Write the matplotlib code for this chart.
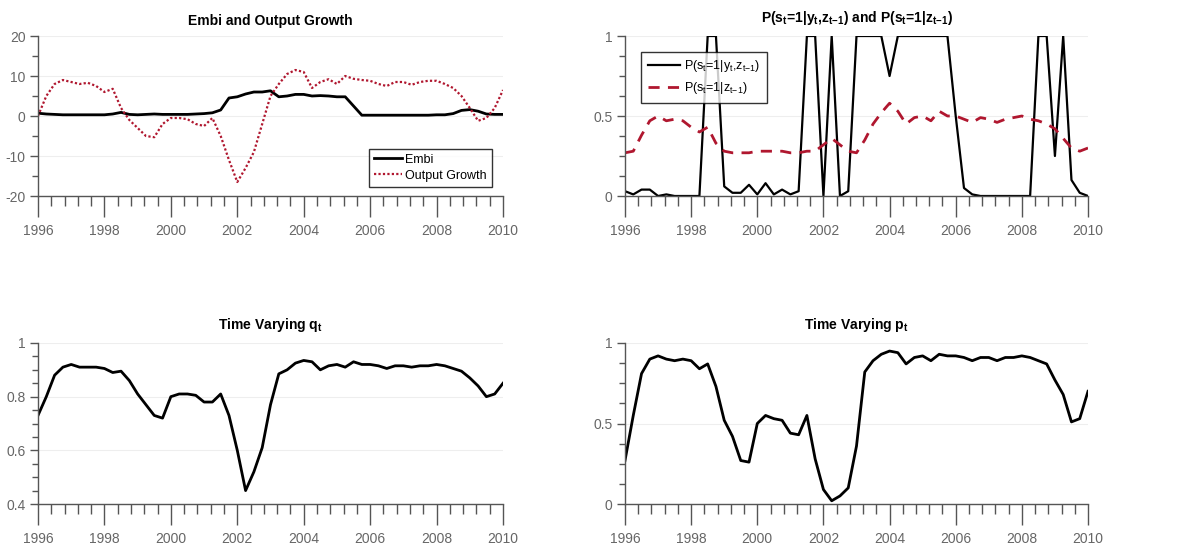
import numpy as np
import matplotlib
matplotlib.use("Agg")
import matplotlib.pyplot as plt
from matplotlib.ticker import MultipleLocator, FixedLocator

plt.rcParams['font.family'] = ['Liberation Sans Narrow', 'Liberation Sans', 'DejaVu Sans']
plt.rcParams['mathtext.fontset'] = 'custom'
plt.rcParams['mathtext.rm'] = 'Liberation Sans'
plt.rcParams['mathtext.it'] = 'Liberation Sans'
plt.rcParams['mathtext.bf'] = 'Liberation Sans:bold'
plt.rcParams['mathtext.default'] = 'regular'

# quarterly dates 1996Q1 .. 2010Q1
dates = 1996 + 0.25 * np.arange(57)

output_growth = [0, 5, 8, 9, 8.5, 8, 8.3, 7.5, 6, 6.8, 2, -1, -3, -5, -5.3, -2,
                 -0.5, -0.5, -0.8, -2, -2.5, -0.5, -5, -11, -16.5, -13, -9, -2,
                 5, 8, 10.5, 11.5, 11, 7, 8.5, 9.2, 8, 10, 9.3, 9, 8.8, 8, 7.5,
                 8.5, 8.5, 7.8, 8.5, 8.8, 8.8, 8, 7, 5, 2, -1.2, -0.5, 2, 6.5]
embi = [0.7, 0.5, 0.4, 0.3, 0.3, 0.3, 0.3, 0.3, 0.3, 0.5, 0.9, 0.4, 0.3, 0.4,
        0.5, 0.4, 0.4, 0.4, 0.4, 0.5, 0.6, 0.8, 1.5, 4.5, 4.8, 5.5, 6.0, 6.0,
        6.3, 4.8, 5.0, 5.4, 5.4, 5.0, 5.1, 5.0, 4.8, 4.8, 2.5, 0.2, 0.2, 0.2,
        0.2, 0.2, 0.2, 0.2, 0.2, 0.2, 0.3, 0.3, 0.6, 1.4, 1.6, 1.2, 0.5, 0.4, 0.4]

p_filt = [0.03, 0.01, 0.04, 0.04, 0.0, 0.01, 0.0, 0.0, 0.0, 0.0, 1.0, 1.0, 0.06,
          0.02, 0.02, 0.07, 0.01, 0.08, 0.01, 0.04, 0.01, 0.03, 1.0, 1.0, 0.0,
          1.0, 0.0, 0.03, 1.0, 1.0, 1.0, 1.0, 0.75, 1.0, 1.0, 1.0, 1.0, 1.0, 1.0,
          1.0, 0.5, 0.05, 0.01, 0.0, 0.0, 0.0, 0.0, 0.0, 0.0, 0.0, 1.0, 1.0, 0.25,
          1.0, 0.1, 0.02, 0.0]
p_pred = [0.27, 0.28, 0.38, 0.47, 0.5, 0.47, 0.48, 0.47, 0.43, 0.40, 0.43, 0.33,
          0.28, 0.27, 0.27, 0.27, 0.28, 0.28, 0.28, 0.28, 0.27, 0.27, 0.28, 0.28,
          0.32, 0.36, 0.32, 0.28, 0.27, 0.35, 0.45, 0.52, 0.58, 0.53, 0.45, 0.49,
          0.50, 0.47, 0.53, 0.50, 0.50, 0.48, 0.46, 0.49, 0.48, 0.46, 0.48, 0.49,
          0.50, 0.48, 0.47, 0.45, 0.42, 0.36, 0.30, 0.28, 0.30]

q_t = [0.73, 0.80, 0.88, 0.91, 0.92, 0.91, 0.91, 0.91, 0.905, 0.89, 0.895, 0.86,
       0.81, 0.77, 0.73, 0.72, 0.80, 0.81, 0.81, 0.805, 0.78, 0.78, 0.81, 0.73,
       0.60, 0.45, 0.52, 0.61, 0.77, 0.885, 0.90, 0.925, 0.935, 0.93, 0.90, 0.915,
       0.92, 0.91, 0.93, 0.92, 0.92, 0.915, 0.905, 0.915, 0.915, 0.91, 0.915,
       0.915, 0.92, 0.915, 0.905, 0.895, 0.87, 0.84, 0.80, 0.81, 0.85]
p_t = [0.27, 0.55, 0.81, 0.90, 0.92, 0.90, 0.89, 0.90, 0.89, 0.84, 0.87, 0.73,
       0.52, 0.42, 0.27, 0.26, 0.50, 0.55, 0.53, 0.52, 0.44, 0.43, 0.55, 0.28,
       0.09, 0.02, 0.05, 0.10, 0.36, 0.82, 0.89, 0.93, 0.95, 0.94, 0.87, 0.91,
       0.92, 0.89, 0.93, 0.92, 0.92, 0.91, 0.89, 0.91, 0.91, 0.89, 0.91, 0.91,
       0.92, 0.91, 0.89, 0.87, 0.77, 0.68, 0.51, 0.53, 0.70]

year_ticks = [1996, 1998, 2000, 2002, 2004, 2006, 2008, 2010]
minor_x = list(np.arange(1996, 2010.001, 0.4))

RED = '#b0172f'
GRAY = '#555555'
W, H = 1183, 548
fig = plt.figure(figsize=(W / 100, H / 100), dpi=100)


def make_ax(l, r, t, b):
    return fig.add_axes([l / W, 1 - b / H, (r - l) / W, (b - t) / H])


def style(ax, ylim, yticks, yminor):
    ax.set_xlim(1996, 2010)
    ax.set_ylim(*ylim)
    for s in ('top', 'right'):
        ax.spines[s].set_visible(False)
    for s in ('left', 'bottom'):
        ax.spines[s].set_color(GRAY)
        ax.spines[s].set_linewidth(1.0)
    ax.set_xticks(year_ticks)
    ax.xaxis.set_minor_locator(FixedLocator(minor_x))
    ax.set_yticks(yticks)
    ax.yaxis.set_minor_locator(MultipleLocator(yminor))
    ax.tick_params(axis='x', which='major', direction='out', length=15, width=1,
                   color=GRAY, labelcolor='#666666', labelsize=10, pad=5)
    ax.tick_params(axis='x', which='minor', direction='out', length=7, width=1, color=GRAY)
    ax.tick_params(axis='y', which='major', direction='out', length=6, width=1,
                   color=GRAY, labelcolor='#666666', labelsize=10, pad=3)
    ax.tick_params(axis='y', which='minor', direction='out', length=4, width=1, color=GRAY)
    ax.grid(axis='y', which='major', color='#eeeeee', linewidth=0.8)
    ax.set_axisbelow(True)


# Top-left
ax1 = make_ax(38, 503, 36, 196)
ax1.plot(dates, embi, color='black', lw=2, label='Embi')
ax1.plot(dates, output_growth, color=RED, lw=1.6, ls=(0, (1, 1)), label='Output Growth')
style(ax1, (-20, 20), [-20, -10, 0, 10, 20], 5)
ax1.set_yticklabels(['-20', '-10', '0', '10', '20'])
ax1.set_title('Embi and Output Growth', fontsize=10, fontweight='bold', pad=8)
leg = ax1.legend(loc='lower right', fontsize=9, frameon=True, fancybox=False,
                 edgecolor='black', handlelength=2.2, handletextpad=0.3,
                 borderpad=0.4, labelspacing=0.3, bbox_to_anchor=(0.99, 0.02))
leg.get_frame().set_linewidth(1.0)

# Top-right
ax2 = make_ax(625, 1088, 36, 196)
ax2.plot(dates, p_filt, color='black', lw=1.6, label=r'P(s$_t$=1|y$_t$,z$_{t{-}1}$)')
ax2.plot(dates, p_pred, color=RED, lw=2, ls=(0, (4, 3)), label=r'P(s$_t$=1|z$_{t{-}1}$)')
style(ax2, (0, 1), [0, 0.5, 1], 0.125)
ax2.set_yticklabels(['0', '0.5', '1'])
ax2.set_title(r'P(s$_\mathbf{t}$=1|y$_\mathbf{t}$,z$_\mathbf{t{-}1}$) and P(s$_\mathbf{t}$=1|z$_\mathbf{t{-}1}$)',
              fontsize=10, fontweight='bold', pad=10)
leg2 = ax2.legend(loc='upper left', fontsize=9, frameon=True, fancybox=False,
                  edgecolor='black', handlelength=2.6, handletextpad=0.3,
                  borderpad=0.5, labelspacing=0.5, bbox_to_anchor=(0.022, 0.94))
leg2.get_frame().set_linewidth(1.0)

# Bottom-left
ax3 = make_ax(38, 503, 343, 504)
ax3.plot(dates, q_t, color='black', lw=2)
style(ax3, (0.4, 1), [0.4, 0.6, 0.8, 1.0], 0.05)
ax3.set_yticklabels(['0.4', '0.6', '0.8', '1'])
ax3.set_title(r'Time Varying q$_\mathbf{t}$', fontsize=10, fontweight='bold', pad=10)

# Bottom-right
ax4 = make_ax(625, 1088, 343, 504)
ax4.plot(dates, p_t, color='black', lw=2)
style(ax4, (0, 1), [0, 0.5, 1], 0.125)
ax4.set_yticklabels(['0', '0.5', '1'])
ax4.set_title(r'Time Varying p$_\mathbf{t}$', fontsize=10, fontweight='bold', pad=10)

fig.savefig('out.png', dpi=100)
